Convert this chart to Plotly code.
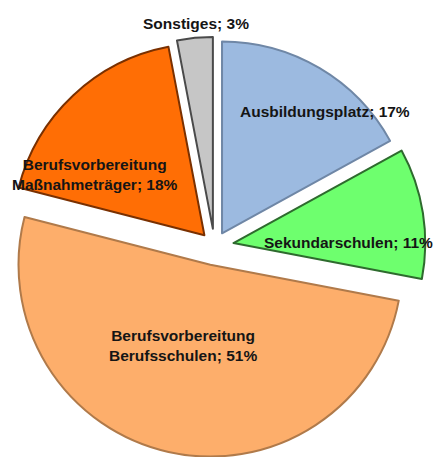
import plotly.graph_objects as go

categories = ["Ausbildungsplatz", "Sekundarschulen", "Berufsvorbereitung<br>Berufsschulen",
              "Berufsvorbereitung<br>Maßnahmeträger", "Sonstiges"]
values = [17, 11, 51, 18, 3]
colors = ["#9CBAE0", "#6EFF6E", "#FDAE6B", "#FF6E05", "#C6C6C6"]
edge_colors = ["#6F87A6", "#2E6B2E", "#B07A4A", "#7A3000", "#4A4A4A"]
pulls = [0.077, 0.10, 0.10, 0.077, 0.09]

# label anchor positions (pixels in the 433x457 canvas)
label_px = [(325, 112), (348, 243), (183, 345), (95, 174), (196, 24)]

W, H = 433, 457
labels_text = [f"{c}; {v}%" for c, v in zip(categories, values)]

fig = go.Figure(go.Pie(
    labels=categories,
    values=values,
    textinfo="none",
    sort=False,
    direction="clockwise",
    rotation=0,
    pull=pulls,
    marker=dict(colors=colors, line=dict(color=edge_colors, width=2)),
    domain=dict(x=[0, 0.9908], y=[0.0, 0.9234]),
    showlegend=False,
    hoverinfo="label+percent",
))

for txt, (px, py) in zip(labels_text, label_px):
    fig.add_annotation(
        x=px / W, y=1 - py / H, xref="paper", yref="paper",
        text=txt, showarrow=False, xanchor="center", yanchor="middle",
        font=dict(family="Liberation Sans, Arial, sans-serif", size=15.5,
                  color="#151515", weight="bold"),
    )

fig.update_layout(
    width=W, height=H,
    margin=dict(l=0, r=0, t=0, b=0),
    paper_bgcolor="white",
    plot_bgcolor="white",
)

fig.write_html("out.html", config={"displayModeBar": False},
               post_script="document.body.style.margin='0';")
